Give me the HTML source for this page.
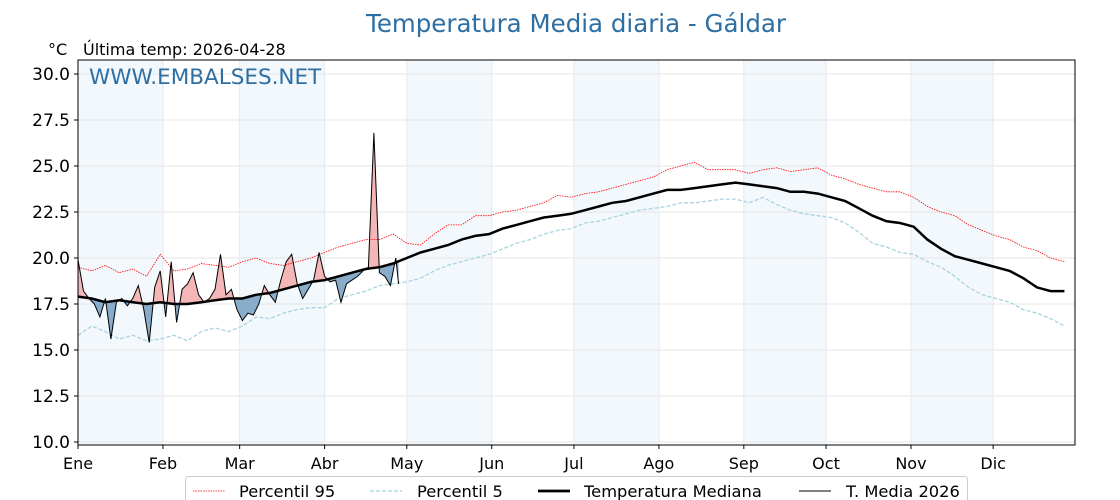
<!DOCTYPE html>
<html><head><meta charset="utf-8"><style>
body{margin:0;background:#fff;}
svg{display:block;font-family:"DejaVu Sans","Liberation Sans",sans-serif;}
</style></head><body>
<svg id="chart" width="1120" height="500" viewBox="0 0 1120 500">
<text x="576" y="32" text-anchor="middle" font-size="24.5" fill="#2e6fa3">Temperatura Media diaria - Gáldar</text>
<text x="48" y="55" font-size="16" fill="#000">°C</text>
<text x="83" y="55" font-size="16" fill="#000">Última temp: 2026-04-28</text>
<g id="bands"></g>
<g id="grid"></g>
<g id="fills"></g>
<g id="lines"></g>
<g id="axes"></g>
<text x="89" y="84" font-size="21.5" fill="#2e6fa3">WWW.EMBALSES.NET</text>
<g>
<rect x="185.5" y="476.5" width="782" height="30" rx="3" fill="#fff" stroke="#ccc"/>
<g><line x1="193" y1="491" x2="225" y2="491" stroke="red" stroke-width="0.8" stroke-dasharray="1.5,1"/><text x="239" y="497" font-size="16.3">Percentil 95</text></g>
<g><line x1="370" y1="491" x2="402" y2="491" stroke="#a8d3e0" stroke-width="1.2" stroke-dasharray="4,2"/><text x="417" y="497" font-size="16.3">Percentil 5</text></g>
<g><line x1="538" y1="491" x2="570" y2="491" stroke="#000" stroke-width="2.8"/><text x="584" y="497" font-size="16.3">Temperatura Mediana</text></g>
<g><line x1="799" y1="491" x2="831" y2="491" stroke="#000" stroke-width="1"/><text x="846" y="497" font-size="16.3">T. Media 2026</text></g>
</g>
</svg>
<script>
const months=["Ene","Feb","Mar","Abr","May","Jun","Jul","Ago","Sep","Oct","Nov","Dic"];
const monthStart=[0,31,59,90,120,151,181,212,243,273,304,334];
const yTicks=[10,12.5,15,17.5,20,22.5,25,27.5,30];
const climDays=[0,5,10,15,20,25,30,35,40,45,50,55,60,65,70,75,80,85,90,95,100,105,110,115,120,125,130,135,140,145,150,155,160,165,170,175,180,185,190,195,200,205,210,215,220,225,230,235,240,245,250,255,260,265,270,275,280,285,290,295,300,305,310,315,320,325,330,335,340,345,350,355,360];
const median=[17.9,17.8,17.6,17.7,17.6,17.5,17.6,17.5,17.5,17.6,17.7,17.8,17.8,18.0,18.1,18.3,18.5,18.7,18.8,19.0,19.2,19.4,19.5,19.7,20.0,20.3,20.5,20.7,21.0,21.2,21.3,21.6,21.8,22.0,22.2,22.3,22.4,22.6,22.8,23.0,23.1,23.3,23.5,23.7,23.7,23.8,23.9,24.0,24.1,24.0,23.9,23.8,23.6,23.6,23.5,23.3,23.1,22.7,22.3,22.0,21.9,21.7,21.0,20.5,20.1,19.9,19.7,19.5,19.3,18.9,18.4,18.2,18.2];
const p95=[19.5,19.3,19.6,19.2,19.4,19.0,20.2,19.3,19.4,19.7,19.6,19.5,19.8,20.0,19.7,19.6,19.8,20.0,20.3,20.6,20.8,21.0,21.0,21.3,20.8,20.7,21.3,21.8,21.8,22.3,22.3,22.5,22.6,22.8,23.0,23.4,23.3,23.5,23.6,23.8,24.0,24.2,24.4,24.8,25.0,25.2,24.8,24.8,24.8,24.6,24.8,24.9,24.7,24.8,24.9,24.5,24.3,24.0,23.8,23.6,23.6,23.3,22.8,22.5,22.3,21.8,21.5,21.2,21.0,20.6,20.4,20.0,19.8];
const p5=[15.8,16.3,16.0,15.6,15.8,15.5,15.6,15.8,15.5,16.0,16.2,16.0,16.3,16.8,16.7,17.0,17.2,17.3,17.3,17.8,18.0,18.2,18.5,18.6,18.7,18.9,19.3,19.6,19.8,20.0,20.2,20.5,20.8,21.0,21.3,21.5,21.6,21.9,22.0,22.2,22.4,22.6,22.7,22.8,23.0,23.0,23.1,23.2,23.2,23.0,23.3,22.9,22.6,22.4,22.3,22.2,21.9,21.4,20.8,20.6,20.3,20.2,19.8,19.5,19.0,18.4,18.0,17.8,17.6,17.2,17.0,16.7,16.3];
const curDays=[0,2,4,6,8,10,12,14,16,18,20,22,24,26,28,30,32,34,36,38,40,42,44,46,48,50,52,54,56,58,60,62,64,66,68,70,72,74,76,78,80,82,84,86,88,90,92,94,96,98,100,102,104,106,108,110,112,114,116,117];
const cur2026=[19.9,18.2,17.8,17.5,16.8,17.8,15.6,17.6,17.8,17.4,17.8,18.5,17.2,15.4,18.4,19.3,16.8,19.8,16.5,18.3,18.6,19.2,18.0,17.6,17.8,18.3,20.2,18.0,18.3,17.2,16.6,17.0,16.9,17.5,18.5,18.0,17.6,18.8,19.8,20.2,18.6,17.8,18.3,18.8,20.3,19.0,18.7,18.8,17.6,18.6,18.8,19.0,19.3,19.5,26.8,19.2,19.0,18.5,20.0,18.6];

const X0=78,X1=1075,Y0=60,Y1=445;
const x=d=>X0+d*2.74;
const y=v=>442-(v-10)*18.4;
const NS="http://www.w3.org/2000/svg";
function mk(tag,attrs,parent){const e=document.createElementNS(NS,tag);for(const k in attrs)e.setAttribute(k,attrs[k]);parent.appendChild(e);return e;}
const g=id=>document.getElementById(id);
function path(xs,vs){return xs.map((d,i)=>(i?"L":"M")+x(d).toFixed(1)+","+y(vs[i]).toFixed(1)).join("");}
function medAt(d){for(let i=1;i<climDays.length;i++){if(d<=climDays[i]){const t=(d-climDays[i-1])/(climDays[i]-climDays[i-1]);return median[i-1]+t*(median[i]-median[i-1]);}}return median[median.length-1];}

for(let i=0;i<12;i+=2){const a=x(monthStart[i]),b=i+1<12?x(monthStart[i+1]):X1;
const r=mk("rect",{x:a,y:Y0,width:b-a,height:Y1-Y0,fill:"#f3f8fc"},g("bands"));

}
yTicks.forEach(v=>{const l=mk("line",{x1:X0,x2:X1,y1:y(v),y2:y(v),stroke:"#e6e6e6","stroke-width":1},g("grid"));

});
monthStart.forEach(d=>{const l=mk("line",{x1:x(d),x2:x(d),y1:Y0,y2:Y1,stroke:"#e3eaf0","stroke-width":1},g("grid"));

});

const defs=mk("defs",{},g("fills"));
const medPts=curDays.map(d=>medAt(d));
const medLine=curDays.map((d,i)=>x(d).toFixed(1)+","+y(medPts[i]).toFixed(1)).join(" L");
const cpA=mk("clipPath",{id:"above"},defs);mk("path",{d:"M"+x(0)+","+Y0+" L"+medLine+" L"+x(117)+","+Y0+"Z"},cpA);
const cpB=mk("clipPath",{id:"below"},defs);mk("path",{d:"M"+x(0)+","+Y1+" L"+medLine+" L"+x(117)+","+Y1+"Z"},cpB);
let area=path(curDays,cur2026);
for(let i=curDays.length-1;i>=0;i--)area+="L"+x(curDays[i]).toFixed(1)+","+y(medPts[i]).toFixed(1);
area+="Z";
const fa=mk("path",{d:area,fill:"#f4b6b6","clip-path":"url(#above)"},g("fills"));


const fb=mk("path",{d:area,fill:"#8aaccb","clip-path":"url(#below)"},g("fills"));



const l1=mk("path",{d:path(climDays,p95),fill:"none",stroke:"red","stroke-width":0.8,"stroke-dasharray":"1.5,1"},g("lines"));


const l2=mk("path",{d:path(climDays,p5),fill:"none",stroke:"#a8d3e0","stroke-width":1.3,"stroke-dasharray":"4,2"},g("lines"));


const l3=mk("path",{d:path(climDays,median),fill:"none",stroke:"#000","stroke-width":2.5},g("lines"));


const l4=mk("path",{d:path(curDays,cur2026),fill:"none",stroke:"#000","stroke-width":1},g("lines"));



const ax=g("axes");
const fr=mk("rect",{x:X0,y:Y0,width:X1-X0,height:Y1-Y0,fill:"none",stroke:"#000","stroke-width":1},ax);


yTicks.forEach(v=>{mk("line",{x1:X0-4,x2:X0,y1:y(v),y2:y(v),stroke:"#000"},ax);
const t=mk("text",{x:X0-8,y:y(v)+6,"text-anchor":"end","font-size":17},ax);t.textContent=v.toFixed(1);

});
months.forEach((m,i)=>{const d=monthStart[i];mk("line",{x1:x(d),x2:x(d),y1:Y1,y2:Y1+4,stroke:"#000"},ax);
const t=mk("text",{x:x(d),y:469,"text-anchor":"middle","font-size":16},ax);t.textContent=m;

});
</script>
</body></html>
